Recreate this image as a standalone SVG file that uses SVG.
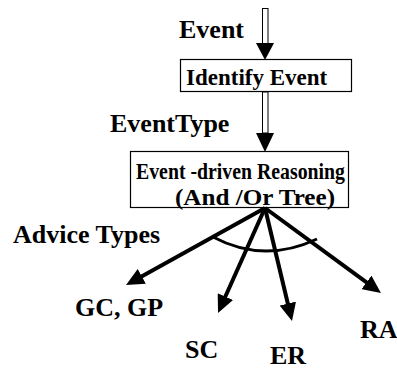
<svg xmlns="http://www.w3.org/2000/svg" width="397" height="370" viewBox="0 0 397 370">
  <defs>
    <style>
      text { font-family: 'Liberation Serif', 'Times New Roman', serif; font-weight: bold; fill: #000; }
      .lbl { font-size: 26px; }
      .inbox { font-size: 23px; }
      .box { fill: #fff; stroke: #000; stroke-width: 1.2; }
      .shaft { fill: #fff; stroke: #000; stroke-width: 1; }
      .head { fill: #000; stroke: none; }
      .edge { stroke: #000; stroke-width: 4; fill: none; }
    </style>
    <marker id="tip" markerUnits="strokeWidth" markerWidth="4.5" markerHeight="4.2" refX="2.25" refY="2.1" orient="auto" viewBox="0 0 4.5 4.2">
      <path d="M0,0 L4.5,2.1 L0,4.2 z" fill="#000"/>
    </marker>
  </defs>

  <!-- incoming event arrow -->
  <g id="event-arrow">
    <rect class="shaft" x="262.5" y="8.5" width="5.5" height="35"/>
    <polygon class="head" points="256,43 274,43 265,60"/>
    <text class="lbl" x="179" y="38">Event</text>
  </g>

  <g id="identify-event">
    <rect class="box" x="180.5" y="59.5" width="171" height="32"/>
    <text class="inbox" x="186" y="85">Identify Event</text>
  </g>

  <!-- event type arrow -->
  <g id="eventtype-arrow">
    <rect class="shaft" x="262.5" y="92" width="5.5" height="41"/>
    <polygon class="head" points="256,133 274,133 265,152"/>
    <text class="lbl" x="110" y="132">EventType</text>
  </g>

  <g id="reasoning">
    <rect class="box" x="130.5" y="151.5" width="218" height="56"/>
    <text class="inbox" x="136" y="179" textLength="209" lengthAdjust="spacingAndGlyphs">Event -driven Reasoning</text>
    <text class="inbox" x="175" y="204.5" textLength="160" lengthAdjust="spacingAndGlyphs">(And /Or Tree)</text>
  </g>

  <!-- advice type branches with the AND arc -->
  <g id="connectors">
    <line class="edge" x1="265" y1="208" x2="133.9" y2="280.7" marker-end="url(#tip)"/>
    <line class="edge" x1="265" y1="208" x2="221.7" y2="304.8" marker-end="url(#tip)"/>
    <line class="edge" x1="265" y1="208" x2="289.9" y2="312.3" marker-end="url(#tip)"/>
    <line class="edge" x1="265" y1="208" x2="373.7" y2="287.7" marker-end="url(#tip)"/>
    <path class="edge" style="stroke-width:3" d="M213,237 Q264,264 317,239"/>
  </g>

  <g id="advice-types">
    <text class="lbl" x="13" y="243">Advice Types</text>
  </g>
  <g id="gc-gp"><text class="lbl" x="75" y="316">GC, GP</text></g>
  <g id="sc"><text class="lbl" x="185" y="358">SC</text></g>
  <g id="er"><text class="lbl" x="270" y="364">ER</text></g>
  <g id="ra"><text class="lbl" x="360" y="338">RA</text></g>
</svg>
